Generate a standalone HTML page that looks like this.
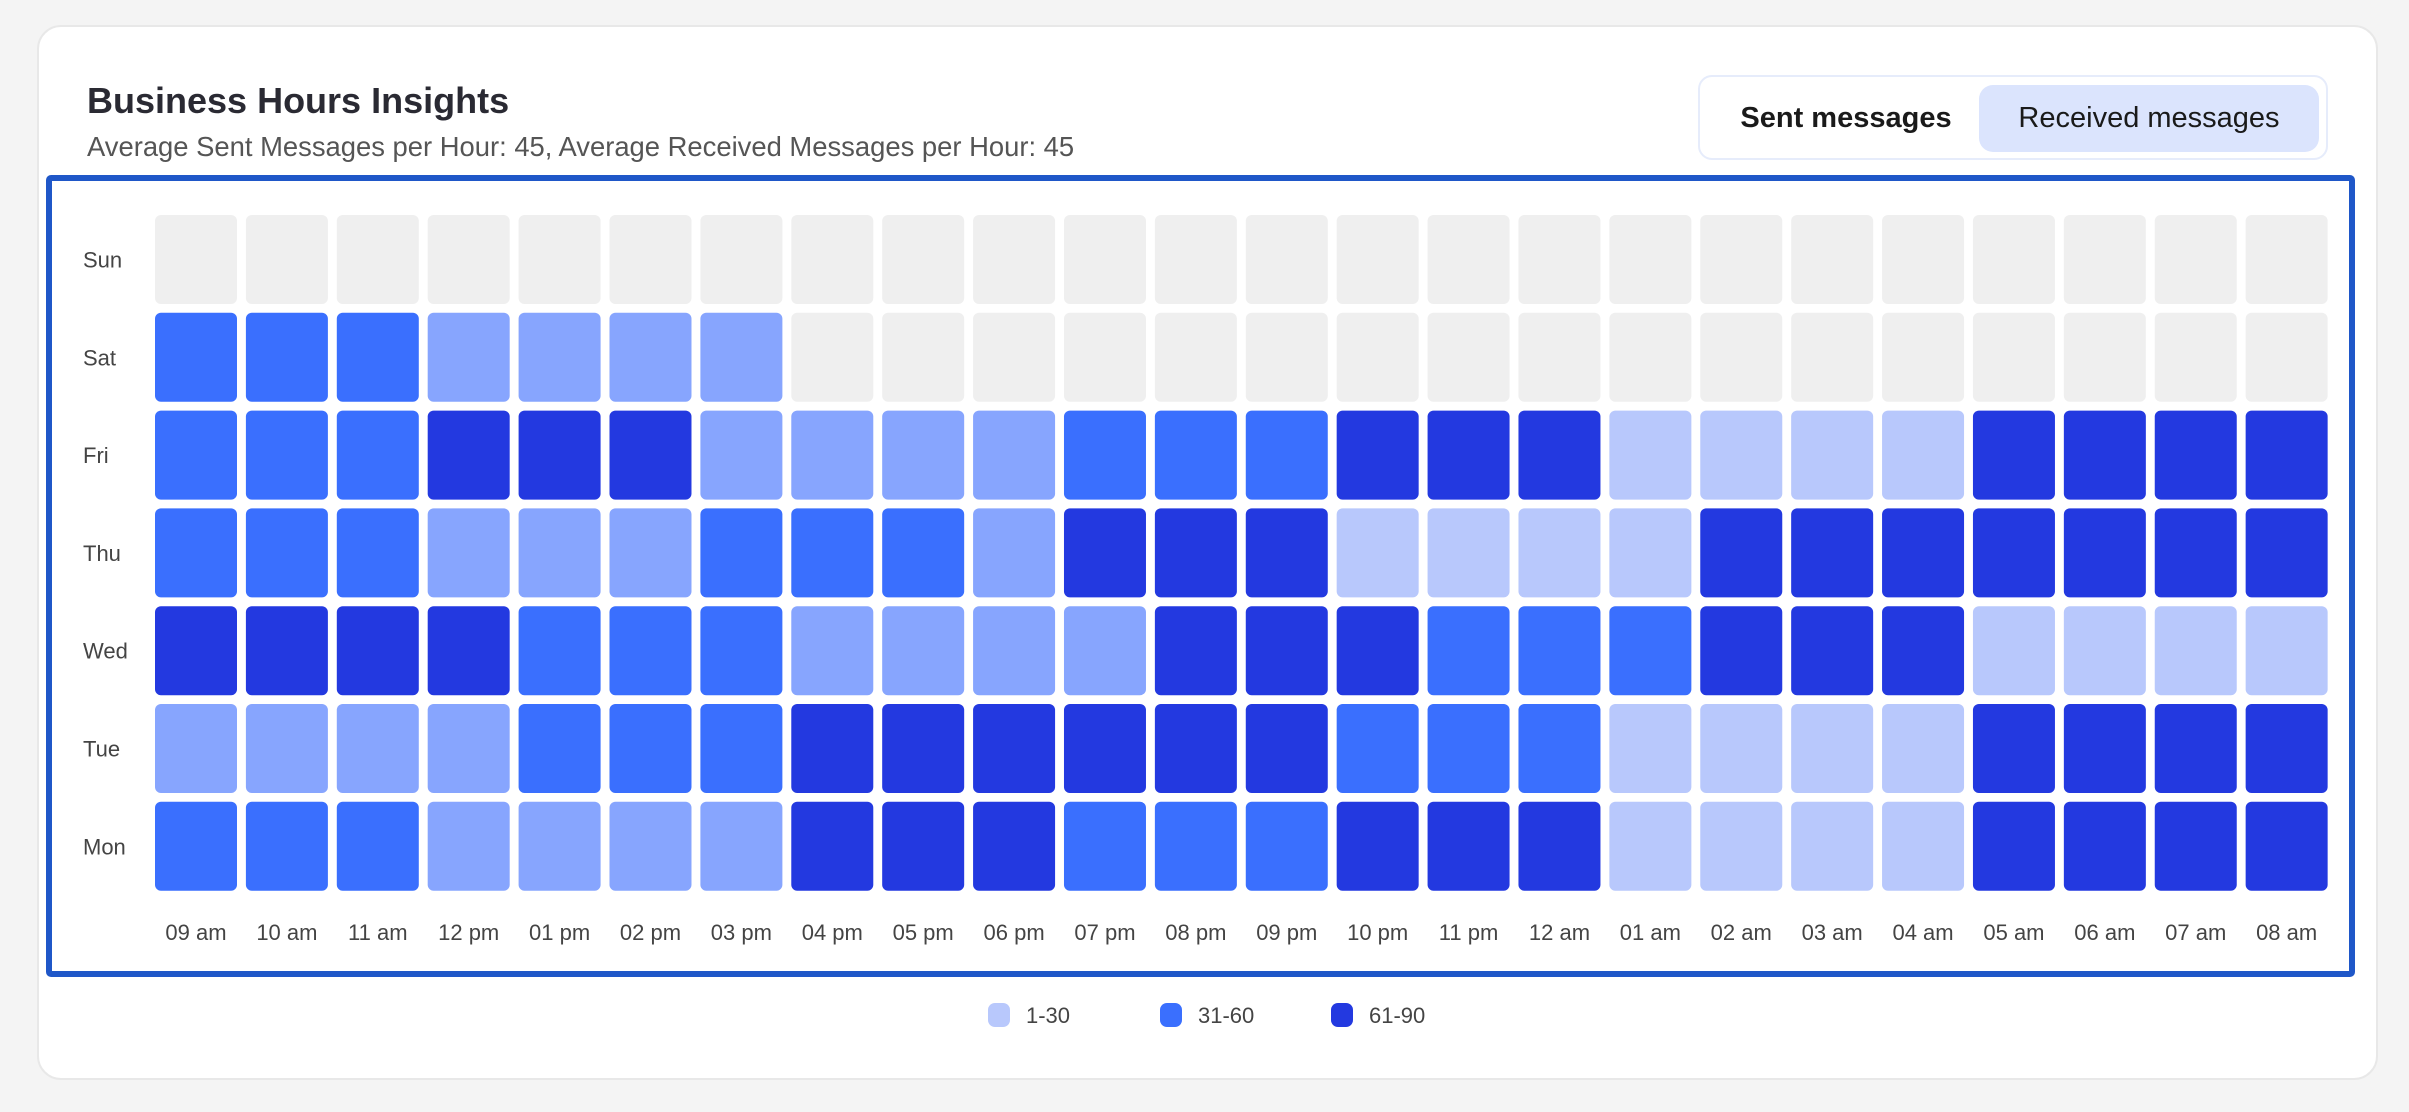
<!DOCTYPE html>
<html><head><meta charset="utf-8"><style>
body{margin:0;width:2409px;height:1112px;background:#f4f4f4;font-family:"Liberation Sans",sans-serif;overflow:hidden;position:relative}
.card{position:absolute;left:37px;top:25px;width:2341px;height:1055px;background:#fff;border:2px solid #e8e8e8;border-radius:24px;box-sizing:border-box}
.title{position:absolute;left:87px;top:80px;font-size:36px;font-weight:bold;color:#2a2a33}
.sub{position:absolute;left:87px;top:131px;font-size:27.4px;color:#555}
.toggle{position:absolute;left:1698px;top:75px;width:630px;height:85px;border:2px solid #e6ecfb;border-radius:14px;box-sizing:border-box;background:#fff}
.tab{position:absolute;top:8px;height:67px;line-height:67px;font-size:29px;color:#1a1a1a;text-align:center;border-radius:14px}
.frame{position:absolute;left:46px;top:175px;width:2309px;height:802px;border:6px solid #1f57c8;border-radius:5px;box-sizing:border-box}
svg{position:absolute;left:0;top:0}
</style></head><body>
<div class="card"></div>
<div class="title">Business Hours Insights</div>
<div class="sub">Average Sent Messages per Hour: 45, Average Received Messages per Hour: 45</div>
<div class="toggle">
<div class="tab" style="left:16px;width:260px;font-weight:bold">Sent messages</div>
<div class="tab" style="left:279px;width:340px;background:#dbe4fd">Received messages</div>
</div>
<div class="frame"></div>
<svg id="chart" width="2409" height="1112"></svg>
<script>
const days=["Sun","Sat","Fri","Thu","Wed","Tue","Mon"];
const hours=["09 am","10 am","11 am","12 pm","01 pm","02 pm","03 pm","04 pm","05 pm","06 pm","07 pm","08 pm","09 pm","10 pm","11 pm","12 am","01 am","02 am","03 am","04 am","05 am","06 am","07 am","08 am"];
const rowSun=[0,0,0,0,0,0,0,0,0,0,0,0,0,0,0,0,0,0,0,0,0,0,0,0];
const rowSat=[45,45,45,25,25,25,25,0,0,0,0,0,0,0,0,0,0,0,0,0,0,0,0,0];
const rowFri=[45,45,45,75,75,75,25,25,25,25,45,45,45,75,75,75,10,10,10,10,75,75,75,75];
const rowThu=[45,45,45,25,25,25,45,45,45,25,75,75,75,10,10,10,10,75,75,75,75,75,75,75];
const rowWed=[75,75,75,75,45,45,45,25,25,25,25,75,75,75,45,45,45,75,75,75,10,10,10,10];
const rowTue=[25,25,25,25,45,45,45,75,75,75,75,75,75,45,45,45,10,10,10,10,75,75,75,75];
const rowMon=[45,45,45,25,25,25,25,75,75,75,45,45,45,75,75,75,10,10,10,10,75,75,75,75];
const values=[rowSun,rowSat,rowFri,rowThu,rowWed,rowTue,rowMon];
const legendLabels=["1-30","31-60","61-90"];
const legendColors=["#b8c8fc","#3a6ffe","#2339e0"];

const NS="http://www.w3.org/2000/svg";
const svg=document.getElementById("chart");
const x0=155,cw=82,xp=(1515*1.5364-cw-x0)/23;
const y0=215,ch=89,yp=97.8;
function xPos(i){return x0+i*xp;}
function yPos(j){return y0+j*yp;}
function color(v){if(v<=0)return"#efefef";if(v<=15)return"#b8c8fc";if(v<=30)return"#87a5fe";if(v<=60)return"#3a6ffe";return"#2339e0";}
function mk(tag,attrs){const e=document.createElementNS(NS,tag);for(const k in attrs)e.setAttribute(k,attrs[k]);svg.appendChild(e);return e;}
days.forEach((d,j)=>{
  const t=mk("text",{x:83,y:yPos(j)+ch/2+8,"font-size":22,fill:"#444","font-family":"Liberation Sans, sans-serif"});
  t.textContent=d;
  
  
  values[j].forEach((v,i)=>{
    const r=mk("rect",{x:xPos(i),y:yPos(j),width:cw,height:ch,rx:6,fill:color(v)});
    
    
  });
});
hours.forEach((h,i)=>{
  const t=mk("text",{x:xPos(i)+cw/2,y:940,"font-size":22,fill:"#444","text-anchor":"middle","font-family":"Liberation Sans, sans-serif"});
  t.textContent=h;
  
  
});
const lx=[988,1160,1331];
legendLabels.forEach((l,i)=>{
  const r=mk("rect",{x:lx[i],y:1003,width:22,height:24,rx:7,fill:legendColors[i]});
  
  
  const t=mk("text",{x:lx[i]+38,y:1023,"font-size":22,fill:"#444","font-family":"Liberation Sans, sans-serif"});
  t.textContent=l;
  
  
});
</script>
</body></html>
